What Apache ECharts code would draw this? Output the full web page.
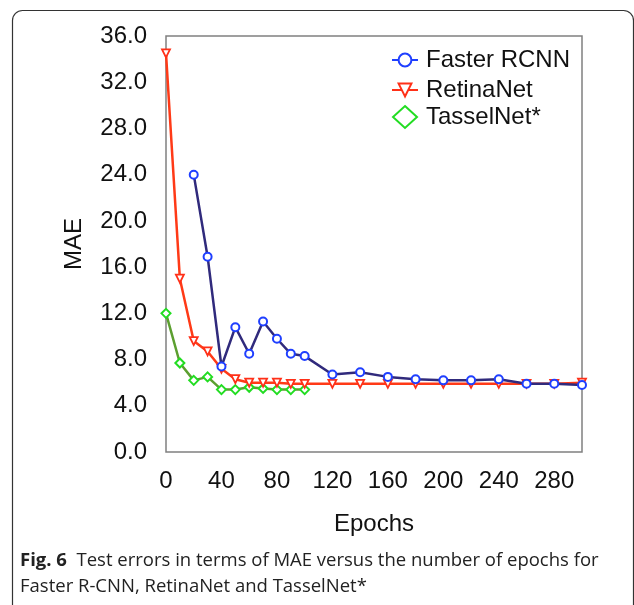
<!DOCTYPE html>
<html>
<head>
<meta charset="utf-8">
<script src="https://cdn.jsdelivr.net/npm/echarts@6/dist/echarts.min.js"></script>
<style>
html,body{margin:0;padding:0;background:#fff;}
#chart{width:634px;height:605px;}
</style>
</head>
<body>
<div id="chart"></div>
<script>
var yTicks = [0,4,8,12,16,20,24,28,32,36];
var xTicks = [0,40,80,120,160,200,240,280];

var fasterEpochs = [20,30,40,50,60,70,80,90,100,120,140,160,180,200,220,240,260,280,300];
var fasterMAE    = [24.0,16.9,7.4,10.8,8.5,11.3,9.8,8.5,8.3,6.7,6.9,6.5,6.3,6.2,6.2,6.3,5.9,5.9,5.8];

var retinaEpochs = [0,10,20,30,40,50,60,70,80,90,100,120,140,160,180,200,220,240,260,280,300];
var retinaMAE    = [34.5,15.0,9.6,8.7,7.2,6.3,6.0,6.0,6.0,5.9,5.9,5.9,5.9,5.9,5.9,5.9,5.9,5.9,5.9,5.9,6.0];

var tasselEpochs = [0,10,20,30,40,50,60,70,80,90,100];
var tasselMAE    = [12.0,7.7,6.2,6.5,5.4,5.4,5.6,5.5,5.4,5.4,5.4];

function pairs(xs, ys){ return xs.map(function(x,i){ return [x, ys[i]]; }); }

var FONT = '"Liberation Sans", Arial, Helvetica, sans-serif';
var CAP = '"Open Sans", sans-serif';
var chart = echarts.init(document.getElementById('chart'), null, {renderer:'canvas'});

chart.setOption({
  animation: false,
  backgroundColor: '#fff',
  grid: {left:166, top:36, width:416, height:416, show:true, borderColor:'#808080', borderWidth:1.5, backgroundColor:'transparent'},
  xAxis: {
    type:'value', min:0, max:300, interval:40,
    name:'Epochs', nameLocation:'middle', nameGap:60,
    nameTextStyle:{fontFamily:FONT, fontSize:24, color:'#111'},
    axisLine:{show:false}, axisTick:{show:false}, splitLine:{show:false},
    axisLabel:{fontFamily:FONT, fontSize:24, color:'#111', margin:17, showMaxLabel:false,
      formatter:function(v){ return xTicks.indexOf(v) >= 0 ? String(v) : ''; }}
  },
  yAxis: {
    type:'value', min:0, max:36, interval:4,
    name:'MAE', nameLocation:'middle', nameGap:80, nameRotate:90,
    nameTextStyle:{fontFamily:FONT, fontSize:24, color:'#111'},
    axisLine:{show:false}, axisTick:{show:false}, splitLine:{show:false},
    axisLabel:{fontFamily:FONT, fontSize:24, color:'#111', margin:19,
      formatter:function(v){ return yTicks.indexOf(v) >= 0 ? v.toFixed(1) : ''; }}
  },
  legend: [{
    orient:'vertical', left:386, top:43, itemWidth:26, itemHeight:16, itemGap:6,
    textStyle:{fontFamily:FONT, fontSize:24, color:'#111', padding:[0,0,0,3]},
    data:[
      {name:'Faster RCNN', itemStyle:{color:'#fff', borderColor:'#1f3fff', borderWidth:2}, lineStyle:{color:'#1f3fff', width:2}},
      {name:'RetinaNet', itemStyle:{color:'#fff', borderColor:'#ff3018', borderWidth:2}, lineStyle:{color:'#ff3018', width:2}}
    ]
  },{
    orient:'vertical', left:387, top:100, itemWidth:24, itemHeight:22,
    textStyle:{fontFamily:FONT, fontSize:24, color:'#111', padding:[0,0,0,4]},
    data:[
      {name:'TasselNet*', icon:'diamond', itemStyle:{color:'#fff', borderColor:'#22dd22', borderWidth:2}}
    ]
  }],
  series: [
    {
      name:'TasselNet*', type:'line', data:pairs(tasselEpochs, tasselMAE),
      symbol:'diamond', symbolSize:9, showAllSymbol:true,
      lineStyle:{color:'#5c9f30', width:2.5},
      itemStyle:{color:'#fff', borderColor:'#22dd22', borderWidth:2}, z:2
    },
    {
      name:'RetinaNet', type:'line', data:pairs(retinaEpochs, retinaMAE),
      symbol:'triangle', symbolRotate:180, symbolSize:8, showAllSymbol:true,
      lineStyle:{color:'#ff3a17', width:2.5},
      itemStyle:{color:'#fff', borderColor:'#ff3018', borderWidth:1.8}, z:3
    },
    {
      name:'Faster RCNN', type:'line', data:pairs(fasterEpochs, fasterMAE),
      symbol:'circle', symbolSize:8, showAllSymbol:true,
      lineStyle:{color:'#302a7c', width:2.5},
      itemStyle:{color:'#fff', borderColor:'#1f3fff', borderWidth:2}, z:4
    }
  ],
  graphic: [
    {type:'rect', shape:{x:12.5, y:10.5, width:621, height:660, r:10}, style:{fill:'none', stroke:'#333', lineWidth:1.2}, silent:true},
    {type:'text', left:20, top:551, style:{
      text:'{b|Fig. 6}  Test errors in terms of MAE versus the number of epochs for',
      font:'18.5px ' + CAP, fill:'#222',
      rich:{b:{fontWeight:'bold', fontSize:18.5, fontFamily:CAP, fill:'#222'}}
    }},
    {type:'text', left:20, top:577, style:{
      text:'Faster R-CNN, RetinaNet and TasselNet*',
      font:'18.5px ' + CAP, fill:'#222'
    }}
  ]
});
</script>
</body>
</html>
